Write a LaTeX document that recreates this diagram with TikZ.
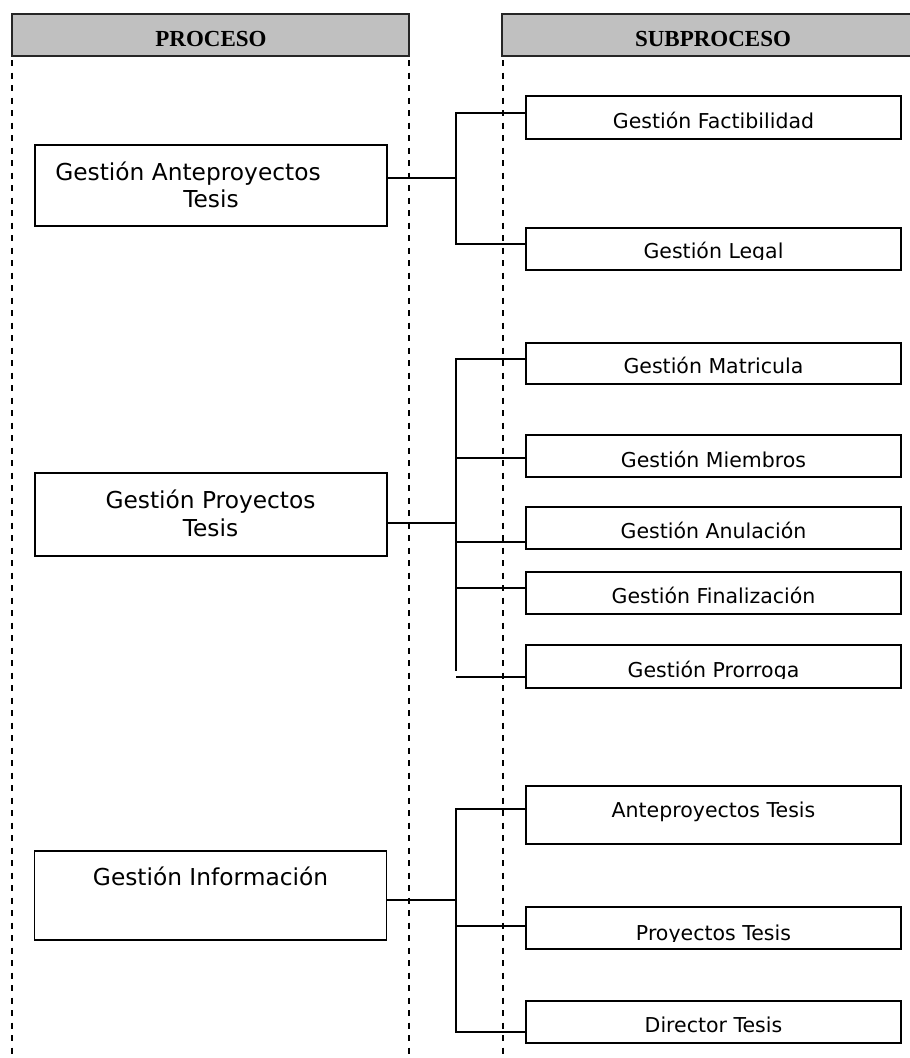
\documentclass[tikz,border=0pt]{standalone}
\usepackage{fontspec}
\setmainfont{DejaVu Sans}
\newfontfamily\headfont{Liberation Serif}
\definecolor{headgray}{HTML}{C0C0C0}
\begin{document}
\begin{tikzpicture}[x=1pt,y=-1pt,
  procbox/.style={draw, line width=1.9pt, inner sep=0pt, minimum width=352pt},
  subbox/.style={draw, line width=1.9pt, inner sep=0pt, minimum width=375pt},
  lbl/.style={anchor=base, inner sep=0pt, font=\fontsize{20.5}{24}\selectfont},
  plbl/.style={anchor=base, inner sep=0pt, font=\fontsize{23.3}{27}\selectfont},
  head/.style={draw=black!85, line width=1.5pt, fill=headgray, inner sep=0pt, minimum height=42pt},
  headtxt/.style={anchor=base, inner sep=0pt, font=\headfont\bfseries\fontsize{23}{26}\selectfont},
  lane/.style={dash pattern=on 6pt off 6.5pt, line width=1.4pt},
  link/.style={line width=1.7pt}]
\useasboundingbox (0,0) rectangle (910,1058);

% column headers
\node[head, minimum width=397pt] (hp) at (210.5,35) {};
\node[head, minimum width=420pt] (hs) at (712,35) {};
\node[headtxt] (hpt) at (211,46.5) {PROCESO};
\node[headtxt] (hst) at (713,46.5) {SUBPROCESO};

% swimlane separators
\coordinate (l1) at (12,60);
\coordinate (l2) at (409,60);
\coordinate (l3) at (503,60);
\draw[lane] (l1) -- (12,1058);
\draw[lane] (l2) -- (409,1058);
\draw[lane] (l3) -- (503,1058);

% processes
\node[procbox, minimum height=81pt] (b1) at (211,185.5) {};
\node[procbox, minimum height=83pt] (b2) at (211,514.5) {};
\node[procbox, minimum height=89pt] (b3) at (210.5,895.5) {};
\node[plbl] (b1a) at (188,180) {Gestión Anteproyectos};
\node[plbl] (b1b) at (211,207) {Tesis};
\node[plbl] (b2a) at (210.5,508) {Gestión Proyectos};
\node[plbl] (b2b) at (210.5,536) {Tesis};
\node[plbl] (b3a) at (210.5,885) {Gestión Información};

% subprocesses
\node[subbox, minimum height=43pt] (f1) at (713.5,117.5) {};
\node[subbox, minimum height=42pt] (f2) at (713.5,249) {};
\node[subbox, minimum height=41pt] (s1) at (713.5,363.5) {};
\node[subbox, minimum height=42pt] (s2) at (713.5,456) {};
\node[subbox, minimum height=42pt] (s3) at (713.5,528) {};
\node[subbox, minimum height=42pt] (s4) at (713.5,593) {};
\node[subbox, minimum height=43pt] (s5) at (713.5,666.5) {};
\node[subbox, minimum height=58pt] (i1) at (713.5,815) {};
\node[subbox, minimum height=42pt] (i2) at (713.5,928) {};
\node[subbox, minimum height=42pt] (i3) at (713.5,1022) {};

\node[lbl] (f1t) at (713.5,128) {Gestión Factibilidad};
\begin{scope}
  \clip (f2.north west) rectangle ([yshift=11pt]f2.south east);
  \node[lbl] (f2t) at (713.5,258) {Gestión Legal};
\end{scope}
\node[lbl] (s1t) at (713.5,373) {Gestión Matricula};
\node[lbl] (s2t) at (713.5,467) {Gestión Miembros};
\node[lbl] (s3t) at (713.5,538) {Gestión Anulación};
\node[lbl] (s4t) at (713.5,603) {Gestión Finalización};
\begin{scope}
  \clip (s5.north west) rectangle ([yshift=10pt]s5.south east);
  \node[lbl] (s5t) at (713.5,677) {Gestión Prorroga};
\end{scope}
\node[lbl] (i1t) at (713.5,817) {Anteproyectos Tesis};
\begin{scope}
  \clip (i2.north west) rectangle ([yshift=8pt]i2.south east);
  \node[lbl] (i2t) at (713.5,940) {Proyectos Tesis};
\end{scope}
\node[lbl] (i3t) at (713.5,1032) {Director Tesis};

% connectors: group 1
\coordinate (j1) at (456,178);
\coordinate (j1a) at (456,113);
\coordinate (j1b) at (456,244);
\draw[link] (b1.east |- j1) -- (j1);
\draw[link] (j1a -| f1.west) -- (j1a) -- (j1b) -- (j1b -| f2.west);

% connectors: group 2
\coordinate (j2) at (456,523);
\coordinate (j2a) at (456,359);
\coordinate (j2b) at (456,458);
\coordinate (j2c) at (456,542);
\coordinate (j2d) at (456,588);
\coordinate (j2e) at (456,671);
\coordinate (j2f) at (456,677);
\draw[link] (b2.east |- j2) -- (j2);
\draw[link] (j2a -| s1.west) -- (j2a) -- (j2e);
\draw[link] (j2b) -- (j2b -| s2.west);
\draw[link] (j2c) -- (j2c -| s3.west);
\draw[link] (j2d) -- (j2d -| s4.west);
\draw[link] (j2f) -- (j2f -| s5.west);

% connectors: group 3
\coordinate (j3) at (456,900);
\coordinate (j3a) at (456,809);
\coordinate (j3b) at (456,926);
\coordinate (j3c) at (456,1032);
\draw[link] (b3.east |- j3) -- (j3);
\draw[link] (j3a -| i1.west) -- (j3a) -- (j3c) -- (j3c -| i3.west);
\draw[link] (j3b) -- (j3b -| i2.west);
\end{tikzpicture}
\end{document}
